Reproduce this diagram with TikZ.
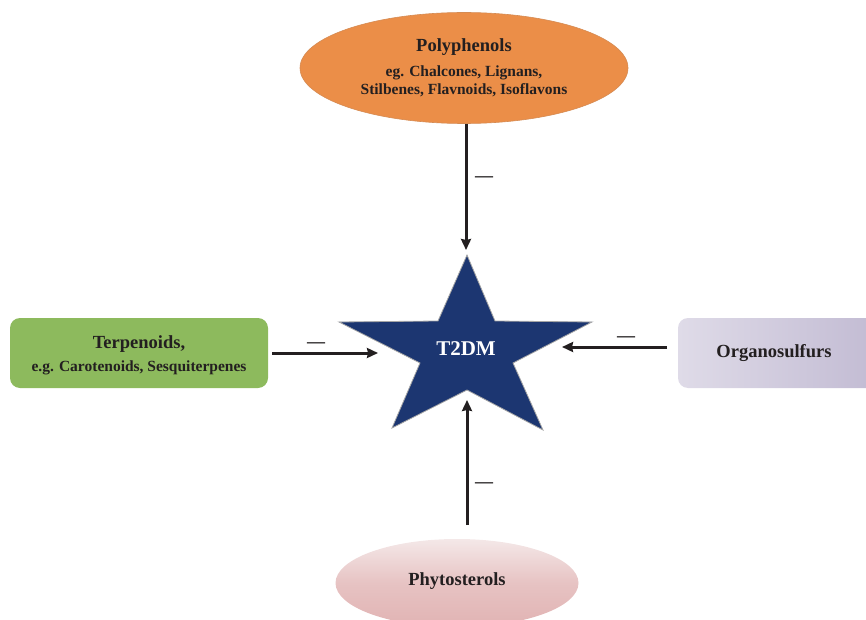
\documentclass[tikz,border=0pt]{standalone}
\usepackage{fontspec}
\setmainfont{Liberation Serif}
\usetikzlibrary{arrows.meta,shapes.geometric}
\definecolor{polyfill}{HTML}{EB8E48}
\definecolor{terpfill}{HTML}{8DBA5D}
\definecolor{starfill}{HTML}{1C3671}
\definecolor{txt}{HTML}{231F20}
\definecolor{orgA}{HTML}{DFDBE8}
\definecolor{orgB}{HTML}{C2BBD3}
\definecolor{phyA}{HTML}{F4E8E8}
\definecolor{phyB}{HTML}{E1B3B3}
\newcommand\mytitlefont{\bfseries\fontsize{18.5}{22}\selectfont}
\begin{document}
\begin{tikzpicture}[x=1pt,y=-1pt,
  lbl/.style={text=txt,font=\bfseries\fontsize{15.5}{18}\selectfont,align=center,inner sep=0pt},
  ttl/.style={font=\mytitlefont},
  arr/.style={draw=txt,line width=3pt,-{Stealth[length=11pt,width=10pt,inset=1pt]}},
  minus/.style={text=txt,font=\bfseries\fontsize{18}{20}\selectfont,inner sep=0pt,anchor=base}]
\useasboundingbox (0,0) rectangle (866,620);
\clip (0,0) rectangle (866,620);
% Polyphenols
\node[ellipse,fill=polyfill,draw=polyfill!80!gray,line width=0.6pt,minimum width=328pt,minimum height=111pt,lbl] (poly) at (464,68)
  {{\mytitlefont Polyphenols}\\[7pt]eg. Chalcones, Lignans,\\Stilbenes, Flavnoids, Isoflavons};
% Terpenoids
\node[rounded corners=10pt,fill=terpfill,minimum width=258pt,minimum height=70pt,lbl] (terp) at (139,353) {};
\node[lbl] (terpt) at (139,355)
  {{\mytitlefont Terpenoids,}\\[5pt]e.g. Carotenoids, Sesquiterpenes};
% Organosulfurs
\node[rounded corners=10pt,left color=orgA,right color=orgB,minimum width=200pt,minimum height=70pt,lbl] (orga) at (778,353) {};
\node[lbl,ttl] (orgt) at (774,353) {Organosulfurs};
% Phytosterols
\node[ellipse,top color=phyA,bottom color=phyB,middle color=phyB!70!phyA,minimum width=243pt,minimum height=88pt,lbl] (phy) at (457,583) {};
\node[lbl,ttl] (phyt) at (457,581) {Phytosterols};
% Star
\coordinate (s1) at (467,255);
\coordinate (s2) at (495,321);
\coordinate (s3) at (592,322);
\coordinate (s4) at (513,363);
\coordinate (s5) at (543,430);
\coordinate (s6) at (467,390);
\coordinate (s7) at (392,428);
\coordinate (s8) at (420,363);
\coordinate (s9) at (339,322);
\coordinate (s10) at (438,321);
\filldraw[fill=starfill,draw=gray!70,line width=0.8pt,line join=miter]
  (s1)--(s2)--(s3)--(s4)--(s5)--(s6)--(s7)--(s8)--(s9)--(s10)--cycle;
\node[text=white,font=\bfseries\fontsize{21}{24}\selectfont,inner sep=0pt] (t2dm) at (466,349) {T2DM};
% arrows
\coordinate (topTip) at (466,250);
\coordinate (leftTip) at (378,353);
\coordinate (rightStart) at (667,347);
\coordinate (rightTip) at (562,347);
\coordinate (botStart) at (467,525);
\coordinate (botTip) at (467,400);
\draw[arr] (topTip |- poly.south) -- (topTip);
\draw[arr] ([xshift=4pt]terp.east) -- (leftTip);
\draw[arr] (rightStart) -- (rightTip);
\draw[arr] (botStart) -- (botTip);
% minus signs
\node[minus] (m1) at (484,182) {—};
\node[minus] (m2) at (316,347) {—};
\node[minus] (m3) at (626,341) {—};
\node[minus] (m4) at (484,487) {—};
\end{tikzpicture}
\end{document}
